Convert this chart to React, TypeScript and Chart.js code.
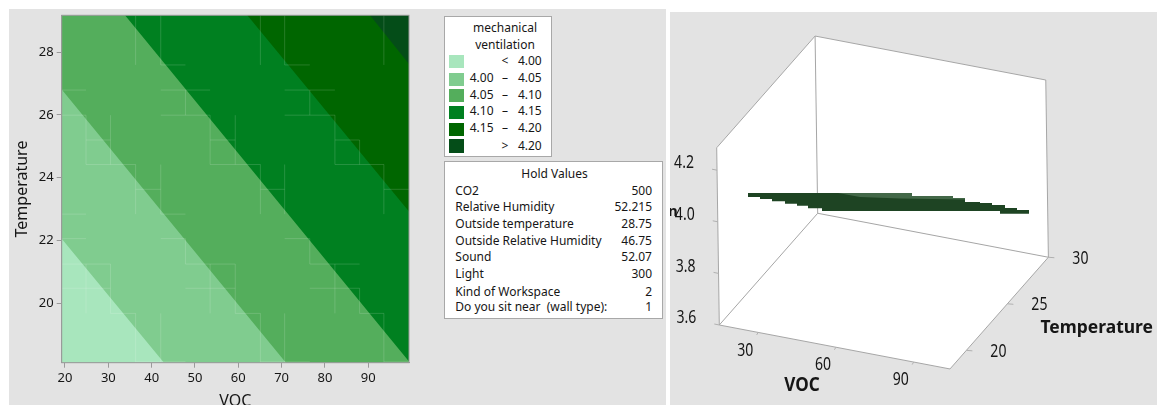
import React, { useEffect, useRef } from "react";
import { Chart, registerables } from "chart.js";

Chart.register(...registerables);

const FONT = '"Noto Sans", "Open Sans", sans-serif';
const INK = "#161616";
const AXIS_GRAY = "#9a9a9a";

// ---- contour plot ----
const vocLimits = [19.24, 99.4];
const tempLimits = [18.11, 29.17];
const vocTicks = [20, 30, 40, 50, 60, 70, 80, 90];
const tempTicks = [20, 22, 24, 26, 28];
const contourColors = ["#a8e6bd", "#80cc8f", "#54ae5c", "#008020", "#006600", "#044d18"];
const contourLevels = ["< 4.00", "4.00 – 4.05", "4.05 – 4.10", "4.10 – 4.15", "4.15 – 4.20", "> 4.20"];
// polygons of the region above each contour level, [VOC, Temperature]
const above400 = [[19.24, 22.06], [19.24, 29.17], [99.4, 29.17], [99.4, 18.11], [42.85, 18.11]];
const above405 = [[19.24, 26.81], [19.24, 29.17], [99.4, 29.17], [99.4, 18.11], [71.0, 18.11]];
const above410 = [[33.85, 29.17], [99.4, 29.17], [99.4, 18.15]];
const above415 = [[62.08, 29.17], [99.4, 29.17], [99.4, 22.92]];
const above420 = [[90.4, 29.17], [99.4, 29.17], [99.4, 27.62]];
// pale interpolation-mesh seams visible in the contour surface
const seamRows = [
  [27.59, 42.1, 47.8], [27.59, 70.7, 76.5],
  [26.79, 19.24, 24.85], [26.79, 42.1, 53.5], [26.79, 70.7, 82.3],
  [25.99, 19.24, 24.85], [25.99, 42.1, 53.5], [25.99, 70.7, 82.3],
  [25.2, 24.85, 30.5], [25.2, 53.5, 59.3], [25.2, 82.3, 88],
  [24.42, 24.85, 36.3], [24.42, 53.5, 65.1], [24.42, 82.3, 93.6],
  [23.63, 36.3, 42.1], [23.63, 65.1, 70.7], [23.63, 93.6, 99.4],
  [22.84, 19.24, 24.85], [22.84, 42.1, 47.8],
  [22.06, 19.24, 24.85], [22.06, 42.1, 47.8], [22.06, 70.7, 76.5],
  [21.25, 19.24, 30.5], [21.25, 47.8, 59.3], [21.25, 76.5, 88],
  [20.48, 19.24, 30.5], [20.48, 47.8, 59.3], [20.48, 76.5, 88],
  [19.68, 30.5, 36.3], [19.68, 59.3, 65.1], [19.68, 88, 93.6],
  [18.14, 36.3, 47.8], [18.14, 65.1, 76.5], [18.14, 93.6, 99.4],
];
const seamColumns = [
  [36.3, 27.59, 29.17], [36.3, 22.84, 24.42], [36.3, 18.11, 19.68],
  [42.1, 27.59, 29.17], [42.1, 22.84, 24.42], [42.1, 18.11, 19.68],
  [47.8, 25.99, 26.79], [47.8, 21.25, 22.06],
  [65.1, 27.59, 29.17], [65.1, 22.84, 24.42], [65.1, 18.11, 19.68],
  [70.7, 27.59, 29.17], [70.7, 22.84, 24.42], [70.7, 18.11, 19.68],
  [53.5, 24.42, 25.99], [53.5, 19.68, 21.25],
  [59.3, 24.42, 25.99], [59.3, 19.68, 21.25],
  [76.5, 25.99, 26.79], [76.5, 21.25, 22.06],
  [24.85, 24.42, 25.99], [24.85, 19.68, 21.25],
  [30.5, 24.42, 25.99], [30.5, 19.68, 21.25],
  [82.3, 24.42, 25.99], [82.3, 19.68, 21.25],
  [88, 24.42, 25.2], [88, 19.68, 20.48],
  [93.6, 27.59, 29.17], [93.6, 22.84, 24.42], [93.6, 18.11, 19.68],
];

// ---- hold values ----
const holdLabels = ["CO2", "Relative Humidity", "Outside temperature", "Outside Relative Humidity", "Sound", "Light", "Kind of Workspace", "Do you sit near  (wall type):"];
const holdNumbers = ["500", "52.215", "28.75", "46.75", "52.07", "300", "2", "1"];
const holdRowY = [190.7, 207, 224, 241, 257, 274, 292, 307];

// ---- surface plot: box bounds and tick values ----
const boxVoc = [15, 104];
const boxTemp = [18, 30];
const boxResponse = [3.6, 4.287];
const surfaceVocTicks = [30, 60, 90];
const surfaceTempTicks = [20, 25, 30];
const surfaceResponseTicks = [3.6, 3.8, 4.0, 4.2];
const stripOutline = [
  [748, 193], [912, 193], [912, 196], [953, 196], [953, 198], [965, 198], [965, 202], [980, 202],
  [980, 203], [992, 203], [992, 205], [1005, 205], [1005, 208], [1017, 208], [1017, 210], [1029, 210],
  [1029, 213.7], [1000, 213.7], [1000, 211], [822, 211], [822, 208.3], [808, 208.3], [808, 205.7],
  [797, 205.7], [797, 203.7], [785, 203.7], [785, 201.3], [772, 201.3], [772, 199], [760, 199], [760, 197], [748, 197],
];
const stripSheen = [[838, 193], [912, 193], [912, 196], [953, 196], [953, 198], [965, 198], [965, 199.5], [900, 198.5], [860, 197]];

function project(voc: number, temp: number, z: number): [number, number] {
  return [
    719.3 + (voc - 15) * 2.592 + (temp - 18) * 8.2 - (z - 3.6) * 3.8,
    325 + (voc - 15) * 0.494 - (temp - 18) * 9.31 - (z - 3.6) * 258,
  ];
}

const toPts = (list: number[][]) => list.map(([x, y]) => ({ x, y }));
const polygon = (list: number[][], color: string) => ({
  data: toPts(list),
  showLine: true,
  fill: "shape" as const,
  backgroundColor: color,
  borderColor: color,
  borderWidth: 0,
  pointRadius: 0,
  tension: 0,
});
const pxPts = (pts: [number, number][]) => pts.map(([x, y]) => [x, y]);

function ContourChart() {
  const ref = useRef<HTMLCanvasElement>(null);
  useEffect(() => {
    const seamData: any[] = [];
    seamRows.forEach(([t, a, b]) => seamData.push({ x: a, y: t }, { x: b, y: t }, { x: b, y: null }));
    seamColumns.forEach(([v, a, b]) => seamData.push({ x: v, y: a }, { x: v, y: b }, { x: v, y: null }));
    const frame = {
      id: "frame",
      afterDatasetsDraw(c: any) {
        const { left, top, width, height } = c.chartArea;
        c.ctx.save();
        c.ctx.strokeStyle = AXIS_GRAY;
        c.ctx.lineWidth = 1;
        c.ctx.strokeRect(left, top, width, height);
        c.ctx.restore();
      },
    };
    const chart = new Chart(ref.current!, {
      type: "scatter",
      data: {
        // Chart.js paints the first dataset last, so the list is reversed
        datasets: ([
          polygon([[19.24, 18.11], [19.24, 29.17], [99.4, 29.17], [99.4, 18.11]], contourColors[0]),
          polygon(above400, contourColors[1]),
          polygon(above405, contourColors[2]),
          polygon(above410, contourColors[3]),
          polygon(above415, contourColors[4]),
          polygon(above420, contourColors[5]),
          {
            data: seamData,
            showLine: true,
            spanGaps: false,
            borderColor: "rgba(255,255,255,0.15)",
            borderWidth: 1,
            pointRadius: 0,
          },
        ] as any[]).reverse(),
      },
      options: {
        animation: false,
        responsive: false,
        layout: { padding: { top: 15.3, right: 21, left: 0, bottom: 0 } },
        plugins: { legend: { display: false }, tooltip: { enabled: false } },
        scales: {
          x: {
            type: "linear",
            min: vocLimits[0],
            max: vocLimits[1],
            afterBuildTicks: (s: any) => { s.ticks = vocTicks.map((value) => ({ value })); },
            afterFit: (s: any) => { s.height = 42.3; },
            grid: { drawOnChartArea: false, color: AXIS_GRAY, tickLength: 5 },
            border: { color: AXIS_GRAY },
            ticks: { color: INK, font: { family: FONT, size: 13 }, padding: 3, maxRotation: 0, autoSkip: false },
            title: { display: true, text: "VOC", color: INK, font: { family: FONT, size: 16 }, padding: { top: 0, bottom: -6 } },
          },
          y: {
            type: "linear",
            min: tempLimits[0],
            max: tempLimits[1],
            afterBuildTicks: (s: any) => { s.ticks = tempTicks.map((value) => ({ value })); },
            afterFit: (s: any) => { s.width = 61.7; },
            grid: { drawOnChartArea: false, color: AXIS_GRAY, tickLength: 5 },
            border: { color: AXIS_GRAY },
            ticks: { color: INK, font: { family: FONT, size: 13 }, padding: 3, autoSkip: false },
            title: { display: true, text: "Temperature", color: INK, font: { family: FONT, size: 16 }, padding: { top: 13, bottom: 0 } },
          },
        },
      } as any,
      plugins: [frame],
    });
    return () => chart.destroy();
  }, []);
  return <canvas ref={ref} width={430} height={405} style={{ position: "absolute", left: 0, top: 0 }} />;
}

function SurfaceChart() {
  const ref = useRef<HTMLCanvasElement>(null);
  useEffect(() => {
    const [v0, v1] = boxVoc;
    const [t0, t1] = boxTemp;
    const [z0, z1] = boxResponse;
    const floor = pxPts([project(v0, t0, z0), project(v1, t0, z0), project(v1, t1, z0), project(v0, t1, z0)]);
    const leftWall = pxPts([project(v0, t0, z0), project(v0, t0, z1), project(v0, t1, z1), project(v0, t1, z0)]);
    const backWall = pxPts([project(v0, t1, z0), project(v0, t1, z1), project(v1, t1, z1), project(v1, t1, z0)]);
    const edges: [number, number][][] = [
      [project(v0, t0, z0), project(v1, t0, z0), project(v1, t1, z0), project(v0, t1, z0), project(v0, t0, z0)],
      [project(v0, t0, z0), project(v0, t0, z1), project(v0, t1, z1), project(v1, t1, z1), project(v1, t1, z0)],
      [project(v0, t1, z1), project(v0, t1, z0)],
    ];
    const edgeSets = edges.map((e) => ({
      data: toPts(pxPts(e)),
      showLine: true,
      borderColor: "#a6a6a6",
      borderWidth: 1,
      pointRadius: 0,
    }));
    const tickSegs = (list: number[], at: (v: number) => [number, number], dx: number, dy: number) => {
      const out: any[] = [];
      list.forEach((v) => {
        const [x, y] = at(v);
        out.push({ x, y }, { x: x + dx, y: y + dy }, { x, y: null });
      });
      return out;
    };
    const tickData = [
      ...tickSegs(surfaceVocTicks, (v) => project(v, t0, z0), -1.5, 2.5),
      ...tickSegs(surfaceTempTicks, (t) => project(v1, t, z0), 6, 0.5),
      ...tickSegs(surfaceResponseTicks, (z) => project(v0, t0, z), -5, -1),
    ];
    const labels = {
      id: "labels3d",
      afterDraw(c: any) {
        const { ctx } = c;
        const X = c.scales.x;
        const Y = c.scales.y;
        const put = (text: string, x: number, y: number, font: string, sx: number) => {
          ctx.save();
          ctx.translate(X.getPixelForValue(x), Y.getPixelForValue(y));
          ctx.scale(sx, 1);
          ctx.font = font;
          ctx.fillStyle = INK;
          ctx.textAlign = "center";
          ctx.textBaseline = "middle";
          ctx.fillText(text, 0, 0);
          ctx.restore();
        };
        const tickFont = `18px ${FONT}`;
        surfaceVocTicks.forEach((v) => {
          const [x, y] = project(v, t0, z0);
          put(String(v), x - 13, y + 18, tickFont, 0.78);
        });
        surfaceTempTicks.forEach((t) => {
          const [x, y] = project(v1, t, z0);
          put(String(t), x + 32, y + 1.5, tickFont, 0.78);
        });
        surfaceResponseTicks.forEach((z) => {
          const [x, y] = project(v0, t0, z);
          put(z.toFixed(1), x - 33, y - 7, tickFont, 0.78);
        });
        put("VOC", 802, 385.7, `bold 19px ${FONT}`, 0.9);
        put("Temperature", 1096.7, 328.3, `bold 18px ${FONT}`, 0.97);
        put("n", 673, 212, `bold 15px ${FONT}`, 1);
      },
    };
    const chart = new Chart(ref.current!, {
      type: "scatter",
      data: {
        // Chart.js paints the first dataset last, so the list is reversed
        datasets: ([
          polygon(floor, "#ffffff"),
          polygon(leftWall, "#ffffff"),
          polygon(backWall, "#ffffff"),
          ...edgeSets,
          { data: tickData, showLine: true, spanGaps: false, borderColor: "#b0b0b0", borderWidth: 1, pointRadius: 0 },
          polygon(stripOutline, "#1e4423"),
          polygon(stripSheen, "rgba(120,155,125,0.42)"),
        ] as any[]).reverse(),
      },
      options: {
        animation: false,
        responsive: false,
        layout: { padding: 0 },
        plugins: { legend: { display: false }, tooltip: { enabled: false } },
        scales: {
          x: { type: "linear", display: false, min: 670, max: 1157 },
          y: { type: "linear", display: false, min: 12, max: 405, reverse: true },
        },
      } as any,
      plugins: [labels],
    });
    return () => chart.destroy();
  }, []);
  return <canvas ref={ref} width={487} height={393} style={{ position: "absolute", left: 670, top: 12 }} />;
}

const text = (s: string, style: React.CSSProperties, key?: React.Key) => (
  <div
    key={key}
    style={{
      position: "absolute",
      whiteSpace: "pre",
      fontFamily: FONT,
      fontSize: 12,
      lineHeight: "14px",
      color: INK,
      ...style,
    }}
  >
    {s}
  </div>
);

const legendRowY = [60.7, 78, 95, 111, 128, 146];
const swatchTop = [55, 72.7, 89, 106, 122.7, 139.3];

export default function App() {
  return (
    <div style={{ position: "fixed", left: 0, top: 0, width: 1157, height: 405, background: "#fff", overflow: "hidden" }}>
      <div style={{ position: "absolute", left: 9, top: 9, width: 657, height: 396, background: "#e3e3e3" }} />
      <div style={{ position: "absolute", left: 670, top: 12, width: 487, height: 393, background: "#e3e3e3" }} />
      <ContourChart />
      <div style={{ position: "absolute", left: 444, top: 16, width: 108, height: 141, boxSizing: "border-box", background: "#fff", border: "1px solid #a8a8a8" }} />
      {text("mechanical", { left: 444, width: 122, top: 21, textAlign: "center" })}
      {text("ventilation", { left: 444, width: 122, top: 38, textAlign: "center" })}
      {contourLevels.map((lvl, i) => {
        const parts = lvl.split(" ");
        const two = parts.length === 3;
        const top = legendRowY[i] - 7;
        return (
          <React.Fragment key={lvl}>
            <div style={{ position: "absolute", left: 449, top: swatchTop[i], width: 15, height: 13.4, background: contourColors[i] }} />
            {two && text(parts[0], { right: 1157 - 493.5, top })}
            {text(two ? parts[1] : parts[0], { left: 495, width: 20, textAlign: "center", top })}
            {text(two ? parts[2] : parts[1], { right: 1157 - 541.7, top })}
          </React.Fragment>
        );
      })}
      <div style={{ position: "absolute", left: 444, top: 161, width: 219, height: 158, boxSizing: "border-box", background: "#fff", border: "1px solid #a8a8a8" }} />
      {text("Hold Values", { left: 444, width: 221, top: 167, textAlign: "center" })}
      {holdLabels.map((l, i) => text(l, { left: 455.3, top: holdRowY[i] - 7 }, l))}
      {holdNumbers.map((n, i) => text(n, { right: 1157 - 652, top: holdRowY[i] - 7 }, `n${i}`))}
      <SurfaceChart />
    </div>
  );
}
